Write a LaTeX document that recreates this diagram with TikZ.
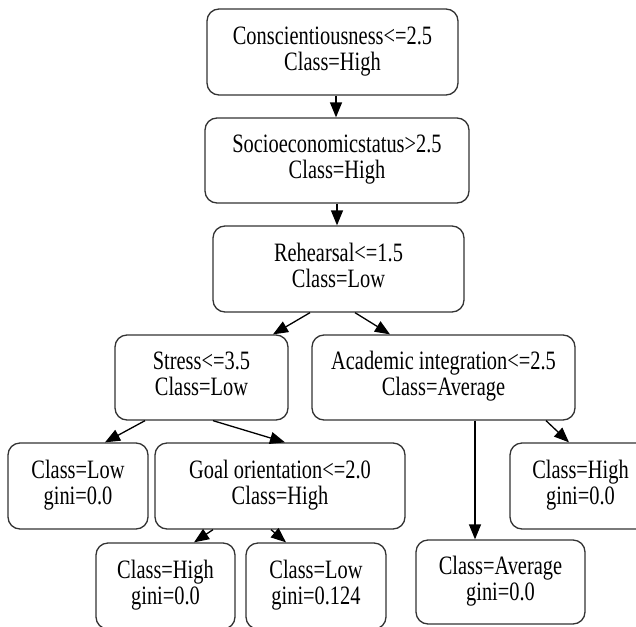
\documentclass[tikz,border=0pt]{standalone}
\usepackage{fontspec}
\setmainfont{Liberation Serif}
\usepackage{graphicx}
\usetikzlibrary{arrows.meta}
\newcommand{\twol}[2]{\scalebox{1}[1.3]{\fontsize{20.4}{20}\selectfont\begin{tabular}{@{}c@{}}#1\\#2\end{tabular}}}
\tikzset{
  box/.style={draw=black!80, line width=1.3pt, rounded corners=12pt, inner sep=0pt, minimum height=86pt},
  arr/.style={draw=black, line width=1.3pt, -{Triangle[length=15pt,width=12pt]}}
}
\begin{document}
\begin{tikzpicture}[x=1pt,y=-1pt]
\useasboundingbox[fill=white] (0,0) rectangle (636,626);
\node[box, minimum width=251pt] (n1) at (332.5,52) {\twol{Conscientiousness<=2.5}{Class=High}};
\node[box, minimum width=264pt, minimum height=85pt] (n2) at (337,160.5) {\twol{Socioeconomicstatus>2.5}{Class=High}};
\node[box, minimum width=251pt] (n3) at (338.5,269) {\twol{Rehearsal<=1.5}{Class=Low}};
\node[box, minimum width=173pt, minimum height=85pt] (n4) at (201.5,377.5) {\twol{Stress<=3.5}{Class=Low}};
\node[box, minimum width=263pt, minimum height=85pt] (n5) at (443.5,377.5) {\twol{Academic integration<=2.5}{Class=Average}};
\node[box, minimum width=140pt] (n6) at (78,486) {\twol{Class=Low}{gini=0.0}};
\node[box, minimum width=250pt] (n7) at (280,486) {\twol{Goal orientation<=2.0}{Class=High}};
\node[box, minimum width=141pt] (n8) at (580.5,486) {\twol{Class=High}{gini=0.0}};
\node[box, minimum width=139pt] (n9) at (165.5,586) {\twol{Class=High}{gini=0.0}};
\node[box, minimum width=140pt] (n10) at (316,586) {\twol{Class=Low}{gini=0.124}};
\node[box, minimum width=169pt, minimum height=84pt] (n11) at (500.5,582) {\twol{Class=Average}{gini=0.0}};
\draw[arr] ([xshift=3.5pt]n1.south) -- ([xshift=-1pt]n2.north);
\draw[arr] (n2.south) -- ([xshift=-1.5pt]n3.north);
\draw[arr] ([xshift=-28.5pt]n3.south) -- ([xshift=71.5pt]n4.north);
\draw[arr] ([xshift=16.5pt]n3.south) -- ([xshift=-53.5pt]n5.north);
\draw[arr] ([xshift=-56.5pt]n4.south) -- ([xshift=27pt]n6.north);
\draw[arr] ([xshift=11.5pt]n4.south) -- ([xshift=5pt]n7.north);
\draw[arr] ([xshift=-67pt]n7.south) -- ([xshift=28.5pt]n9.north);
\draw[arr] ([xshift=-9pt]n7.south) -- ([xshift=-30pt]n10.north);
\draw[arr] ([xshift=31.5pt]n5.south) -- ([xshift=-25.5pt]n11.north);
\draw[arr] ([xshift=102.5pt]n5.south) -- ([xshift=-11.5pt]n8.north);
\end{tikzpicture}
\end{document}
